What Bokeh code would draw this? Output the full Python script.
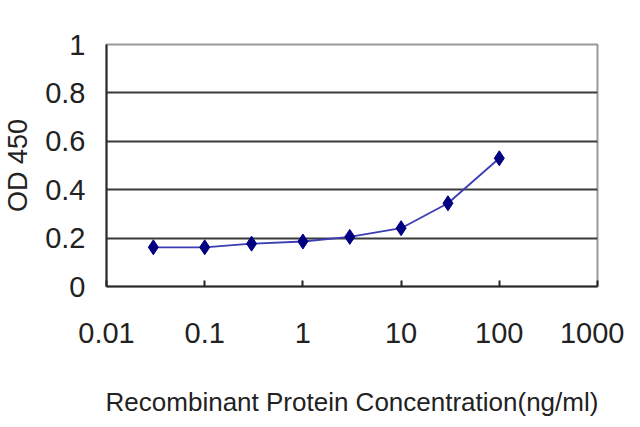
from bokeh.plotting import figure
from bokeh.models import Range1d, FixedTicker
from bokeh.embed import file_html
from bokeh.resources import INLINE

# concentration (ng/ml) and OD 450 readings
conc = [0.03, 0.1, 0.3, 1, 3, 10, 30, 100]
od450 = [0.162, 0.162, 0.177, 0.186, 0.205, 0.241, 0.344, 0.530]

x_ticks = [0.01, 0.1, 1, 10, 100, 1000]
x_labels = ["0.01", "0.1", "1", "10", "100", "1000"]
y_ticks = [0, 0.2, 0.4, 0.6, 0.8, 1.0]
y_labels = ["0", "0.2", "0.4", "0.6", "0.8", "1"]
grid_ticks = [0.2, 0.4, 0.6, 0.8]

x_title = "Recombinant Protein Concentration(ng/ml)"
y_title = "OD 450"

FONT = "Liberation Sans"

p = figure(width=624, height=419, x_axis_type="log",
           x_range=Range1d(0.01, 1000), y_range=Range1d(0, 1),
           output_backend="svg", toolbar_location=None,
           min_border_left=104, min_border_right=27,
           min_border_top=44, min_border_bottom=124)

p.background_fill_color = "white"
p.border_fill_color = "white"
p.outline_line_color = "#9a9a9a"
p.outline_line_width = 2

p.xgrid.visible = False
p.ygrid.ticker = FixedTicker(ticks=grid_ticks)
p.ygrid.grid_line_color = "#3a3a3a"
p.ygrid.grid_line_width = 2

p.line(conc, od450, line_color="#3c3cb4", line_width=1.8)
p.scatter(conc, od450, marker="diamond", size=15,
          fill_color="#000080", line_color="#000080")

p.xaxis.ticker = FixedTicker(ticks=x_ticks)
p.xaxis.major_label_overrides = dict(zip(x_ticks, x_labels))
p.xaxis.minor_tick_line_color = None
p.xaxis.major_tick_in = 6
p.xaxis.major_tick_out = 0
p.xaxis.major_tick_line_width = 2
p.xaxis.major_tick_line_color = "#222222"
p.xaxis.axis_line_color = "#2a2a2a"
p.xaxis.axis_line_width = 2
p.xaxis.major_label_standoff = 36
p.xaxis.axis_label = x_title
p.xaxis.axis_label_standoff = 41
p.xaxis.axis_label_text_font_size = "26px"

p.yaxis.ticker = FixedTicker(ticks=y_ticks)
p.yaxis.major_label_overrides = dict(zip(y_ticks, y_labels))
p.yaxis.minor_tick_line_color = None
p.yaxis.major_tick_line_color = None
p.yaxis.axis_line_color = "#2a2a2a"
p.yaxis.axis_line_width = 2
p.yaxis.major_label_standoff = 15
p.yaxis.axis_label = y_title
p.yaxis.axis_label_standoff = 9
p.yaxis.axis_label_text_font_size = "27px"

for ax in (p.xaxis, p.yaxis):
    ax.major_label_text_font = FONT
    ax.major_label_text_font_size = "29px"
    ax.major_label_text_color = "#222222"
    ax.axis_label_text_font = FONT
    ax.axis_label_text_font_style = "normal"
    ax.axis_label_text_color = "#222222"

open("out.html", "w").write(file_html(p, INLINE))
